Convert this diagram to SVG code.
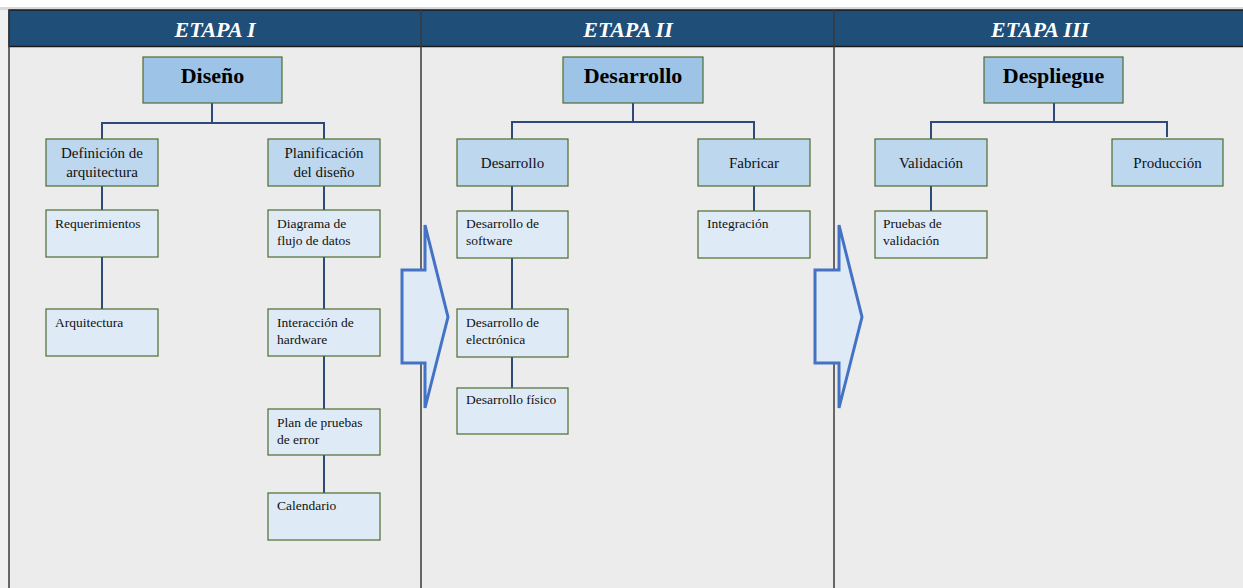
<svg xmlns="http://www.w3.org/2000/svg" width="1243" height="588" viewBox="0 0 1243 588">
<defs>
<style>
.bg{fill:#ececec}
.hdr{fill:#1f4e79;stroke:#1a1a1a;stroke-width:1.5}
.div{stroke:#3a3a3a;stroke-width:1.5;fill:none}
.ht{font-family:"Liberation Serif",serif;font-weight:bold;font-style:italic;font-size:22px;fill:#ffffff;text-anchor:middle}
.top{fill:#9dc3e6;stroke:#4e6b30;stroke-width:1.2}
.mid{fill:#bdd7ee;stroke:#4e6b30;stroke-width:1.2}
.leaf{fill:#deebf7;stroke:#4e6b30;stroke-width:1.2}
.tt{font-family:"Liberation Serif",serif;font-weight:bold;font-size:22px;fill:#000;text-anchor:middle}
.mt{font-family:"Liberation Serif",serif;font-size:15px;fill:#111;text-anchor:middle}
.lt{font-family:"Liberation Serif",serif;font-size:13.5px;fill:#111}
.con{stroke:#2e4a7a;stroke-width:2;fill:none}
.arr{fill:#deebf7;stroke:#4472c4;stroke-width:3;stroke-linejoin:miter}
</style>
</defs>
<rect x="0" y="0" width="1243" height="588" fill="#f0f0f0"/>
<rect x="0" y="0" width="1243" height="7" fill="#ffffff"/>
<rect x="0" y="7" width="1243" height="3" fill="#d9d9d9"/>
<rect class="bg" x="9" y="10" width="1234" height="578"/>
<g id="header">
<rect class="hdr" x="9" y="10" width="1236" height="36.5"/>
<text class="ht" x="215" y="37">ETAPA I</text>
<text class="ht" x="628" y="37">ETAPA II</text>
<text class="ht" x="1040" y="37">ETAPA III</text>
</g>
<g id="frame">
<line class="div" x1="9" y1="10" x2="9" y2="588"/>
<line class="div" x1="421" y1="10" x2="421" y2="588"/>
<line class="div" x1="834" y1="10" x2="834" y2="588"/>
</g>
<g id="connectors">
<path class="con" d="M212,103 V123 M102,139 V123 H324 V139"/>
<path class="con" d="M102,186 V210 M102,257 V309"/>
<path class="con" d="M324,186 V210 M324,257 V309 M324,356 V409 M324,455 V493"/>
<path class="con" d="M633,103 V122 M512,139 V122 H754 V139"/>
<path class="con" d="M512,186 V211 M512,258 V309 M512,357 V388"/>
<path class="con" d="M754,186 V211"/>
<path class="con" d="M1054,103 V122 M931,139 V122 H1167 V137"/>
<path class="con" d="M931,186 V211"/>
</g>
<g id="arrow1"><polygon class="arr" points="402,270 425,270 425,225 448,317 425,408 425,363 402,363"/></g>
<g id="arrow2"><polygon class="arr" points="815,270 839,270 839,225 862,317 839,408 839,363 815,363"/></g>
<g id="n-diseno"><rect class="top" x="143" y="57" width="139" height="46"/><text class="tt" x="212.5" y="83">Diseño</text></g>
<g id="n-definicion"><rect class="mid" x="46" y="139" width="112" height="47"/><text class="mt" x="102" y="158">Definición de</text><text class="mt" x="102" y="177">arquitectura</text></g>
<g id="n-planificacion"><rect class="mid" x="268" y="139" width="112" height="47"/><text class="mt" x="324" y="158">Planificación</text><text class="mt" x="324" y="177">del diseño</text></g>
<g id="n-requerimientos"><rect class="leaf" x="46" y="210" width="112" height="47"/><text class="lt" x="55" y="228">Requerimientos</text></g>
<g id="n-arquitectura"><rect class="leaf" x="46" y="309" width="112" height="47"/><text class="lt" x="55" y="327">Arquitectura</text></g>
<g id="n-diagrama"><rect class="leaf" x="268" y="210" width="112" height="47"/><text class="lt" x="277" y="228">Diagrama de</text><text class="lt" x="277" y="245">flujo de datos</text></g>
<g id="n-interaccion"><rect class="leaf" x="268" y="309" width="112" height="47"/><text class="lt" x="277" y="327">Interacción de</text><text class="lt" x="277" y="344">hardware</text></g>
<g id="n-plan"><rect class="leaf" x="268" y="409" width="112" height="46"/><text class="lt" x="277" y="427">Plan de pruebas</text><text class="lt" x="277" y="444">de error</text></g>
<g id="n-calendario"><rect class="leaf" x="268" y="493" width="112" height="47"/><text class="lt" x="277" y="510">Calendario</text></g>
<g id="n-desarrollo-main"><rect class="top" x="563" y="57" width="140" height="46"/><text class="tt" x="633" y="83">Desarrollo</text></g>
<g id="n-desarrollo"><rect class="mid" x="457" y="139" width="111" height="47"/><text class="mt" x="512.5" y="167.5">Desarrollo</text></g>
<g id="n-fabricar"><rect class="mid" x="698" y="139" width="112" height="47"/><text class="mt" x="754" y="167.5">Fabricar</text></g>
<g id="n-software"><rect class="leaf" x="457" y="211" width="111" height="47"/><text class="lt" x="466" y="228">Desarrollo de</text><text class="lt" x="466" y="245">software</text></g>
<g id="n-electronica"><rect class="leaf" x="457" y="309" width="111" height="48"/><text class="lt" x="466" y="327">Desarrollo de</text><text class="lt" x="466" y="344">electrónica</text></g>
<g id="n-fisico"><rect class="leaf" x="457" y="388" width="111" height="46"/><text class="lt" x="466" y="404">Desarrollo físico</text></g>
<g id="n-integracion"><rect class="leaf" x="698" y="211" width="112" height="47"/><text class="lt" x="707" y="228">Integración</text></g>
<g id="n-despliegue"><rect class="top" x="984" y="57" width="139" height="46"/><text class="tt" x="1053.5" y="83">Despliegue</text></g>
<g id="n-validacion"><rect class="mid" x="875" y="139" width="112" height="47"/><text class="mt" x="931" y="167.5">Validación</text></g>
<g id="n-produccion"><rect class="mid" x="1112" y="139" width="111" height="47"/><text class="mt" x="1167.5" y="167.5">Producción</text></g>
<g id="n-pruebas"><rect class="leaf" x="875" y="211" width="112" height="47"/><text class="lt" x="883" y="228">Pruebas de</text><text class="lt" x="883" y="245">validación</text></g>
</svg>
